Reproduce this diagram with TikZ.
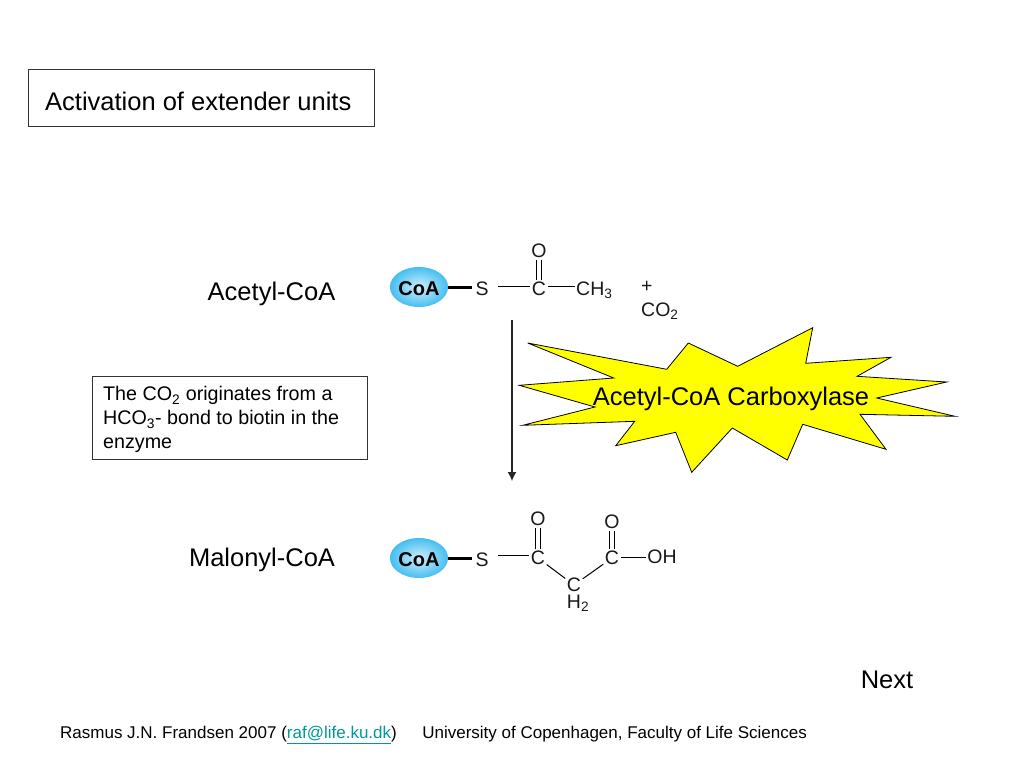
\documentclass[tikz,border=0pt]{standalone}
\usepackage{fontspec}
\setmainfont{Liberation Sans}
\usetikzlibrary{shapes.geometric, arrows.meta}
\definecolor{linkteal}{RGB}{0,153,153}
\definecolor{coablue}{RGB}{70,190,240}
\definecolor{burstyellow}{RGB}{255,255,0}
\tikzset{
  titlebox/.style={draw=black!80, line width=0.8pt, fill=white},
  bigtext/.style={font=\fontsize{25.5}{28}\selectfont, inner sep=0pt},
  atom/.style={font=\fontsize{19.5}{22}\selectfont, inner sep=1.5pt, text=black!90},
  coa/.style={ellipse, minimum width=57pt, minimum height=40pt, inner sep=0pt,
    inner color=white!75!coablue, outer color=coablue, text height=16pt, text depth=0pt,
    font=\fontsize{20}{22}\selectfont\bfseries},
  coalink/.style={line width=3pt},
  bond/.style={line width=1pt},
}
\newcommand{\dbond}[2]{%
  \draw[bond] ([xshift=-2.5pt]#1.north) -- ([xshift=-2.5pt]#2.south);
  \draw[bond] ([xshift=2.5pt]#1.north) -- ([xshift=2.5pt]#2.south);
}
\begin{document}
\begin{tikzpicture}[x=1pt, y=-1pt]
\useasboundingbox (0,0) rectangle (1024,768);

% Title
\node[titlebox, minimum width=346.5pt, minimum height=57pt] (title) at (201.5,97.5) {};
\node[bigtext, anchor=west] (titletext) at (45,101) {Activation of extender units};

% Names of the molecules
\node[bigtext] (acetyl) at (271.5,294) {Acetyl-CoA};
\node[bigtext] (malonyl) at (262,560) {Malonyl-CoA};

% Acetyl-CoA
\node[coa] (coaA) at (419,287) {CoA};
\node[atom] (sA) at (482,289) {S};
\node[atom] (cA) at (539,289) {C};
\node[atom] (oA) at (539,251) {O};
\node[atom, anchor=west] (chA) at (574.5,290) {CH\textsubscript{3}};
\draw[coalink] (coaA.east) -- ++(24,0) coordinate (linkA);
\draw[bond] (sA.east) ++(8,-3) coordinate (bondA) -- (cA.west |- bondA);
\draw[bond] (cA.east |- bondA) -- (chA.west |- bondA);
\dbond{cA}{oA}
\node[atom, anchor=north west, align=left, font=\fontsize{19.5}{24}\selectfont, inner sep=0pt] (plus) at (641,281) {+\\CO\textsubscript{2}};

% Enzyme
\draw[fill=burstyellow, line width=0.8pt, line join=miter]
  (527.7,343) -- (666.7,369.3) -- (688.3,343) -- (737.7,366.3) -- (812.7,327.7)
  -- (805.7,363.3) -- (891,357.3) -- (857,376.3) -- (946.7,382) -- (876.7,398)
  -- (955,416.3) -- (860,414.3) -- (886,449.3) -- (802.7,424.3) -- (787.3,460)
  -- (732.3,428) -- (691.7,472.3) -- (675.7,432.3) -- (615.7,445.7) -- (634.7,421.3)
  -- (522.7,425.3) -- (595,407) -- (519.3,385.3) -- (613.7,378) -- cycle;
\node[bigtext] (enzyme) at (731,399) {Acetyl-CoA Carboxylase};

% Reaction arrow
\coordinate (arrowtop) at (512,320);
\coordinate (arrowend) at (512,481);
\draw[-{Latex[length=9pt,width=9pt]}, line width=1.3pt, black!85] (arrowtop) -- (arrowend);

% Note
\node[titlebox, anchor=north west, minimum width=275pt, minimum height=82.5pt,
  inner xsep=0pt, inner ysep=0pt] (note) at (92,376) {};
\node[anchor=north west, inner sep=0pt, align=left, font=\fontsize{19.7}{24}\selectfont] (notetext) at (103,386.5)
  {The CO\textsubscript{2} originates from a\\HCO\textsubscript{3}- bond to biotin in the\\enzyme};

% Malonyl-CoA
\node[coa] (coaB) at (419,558) {CoA};
\node[atom] (sB) at (482,560) {S};
\node[atom] (cB) at (538,558) {C};
\node[atom] (oB) at (538,519) {O};
\node[atom] (cC) at (612,558) {C};
\node[atom] (oC) at (612,522) {O};
\node[atom] (ohB) at (662,557) {OH};
\node[atom] (chB) at (574,585) {C};
\node[atom] (hB) at (578,603) {H\textsubscript{2}};
\draw[coalink] (coaB.east) -- ++(24,0) coordinate (linkB);
\draw[bond] (sB.east) ++(8,-5) coordinate (bondB) -- (cB.west |- bondB);
\draw[bond] (cC.east |- ohB) -- (ohB.west);
\dbond{cB}{oB}
\dbond{cC}{oC}
\draw[bond] (cB) -- (chB);
\draw[bond] (chB) -- (cC);

% Bottom of the slide
\node[bigtext] (next) at (887,680) {Next};
\node[anchor=west, inner sep=0pt, font=\fontsize{17}{20}\selectfont] (footer) at (60,735)
  {Rasmus J.N. Frandsen 2007 ({\color{linkteal}\underline{raf@life.ku.dk}})\hspace{1.5em}University of Copenhagen, Faculty of Life Sciences};
\end{tikzpicture}
\end{document}
